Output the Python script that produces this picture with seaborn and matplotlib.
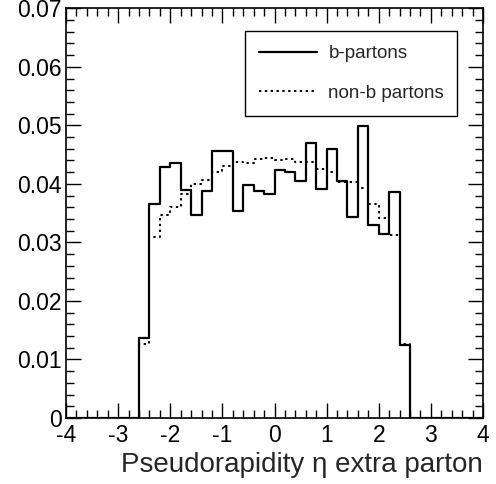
import numpy as np
import pandas as pd
import matplotlib
matplotlib.use("Agg")
import matplotlib.pyplot as plt
import seaborn as sns
from matplotlib.ticker import MultipleLocator, FuncFormatter

# bin centres of the filled bins (bin width 0.2, range -4..4)
eta_centers = [-2.5, -2.3, -2.1, -1.9, -1.7, -1.5, -1.3, -1.1, -0.9, -0.7,
               -0.5, -0.3, -0.1, 0.1, 0.3, 0.5, 0.7, 0.9, 1.1, 1.3,
               1.5, 1.7, 1.9, 2.1, 2.3, 2.5]
b_partons = [0.0136, 0.0366, 0.0428, 0.0435, 0.0390, 0.0347, 0.0387, 0.0457, 0.0457, 0.0354,
             0.0398, 0.0387, 0.0383, 0.0424, 0.0421, 0.0405, 0.0470, 0.0392, 0.0459, 0.0405,
             0.0343, 0.0499, 0.0330, 0.0315, 0.0386, 0.0124]
non_b_partons = [0.0126, 0.0309, 0.0346, 0.0360, 0.0383, 0.0400, 0.0407, 0.0420, 0.0430, 0.0438,
                 0.0436, 0.0442, 0.0444, 0.0440, 0.0442, 0.0438, 0.0437, 0.0425, 0.0420, 0.0404,
                 0.0404, 0.0393, 0.0366, 0.0341, 0.0312, 0.0126]
labels = ["b-partons", "non-b partons"]
x_label = "Pseudorapidity \u03b7 extra parton"

df = pd.DataFrame({"eta": eta_centers, "b": b_partons, "nonb": non_b_partons})

sns.set_theme(style="white")
plt.rcParams["font.family"] = ["Liberation Sans", "DejaVu Sans"]

fig = plt.figure(figsize=(4.96, 4.84), dpi=100)
ax = fig.add_axes([0.1331, 0.1364, 0.8407, 0.8465])

sns.histplot(data=df, x="eta", weights="b", binwidth=0.2, binrange=(-4, 4), element="step",
             fill=False, color="black", linewidth=1.6, linestyle="-", label=labels[0], ax=ax)
sns.histplot(data=df, x="eta", weights="nonb", binwidth=0.2, binrange=(-4, 4), element="step",
             fill=False, color="black", linewidth=1.4, linestyle=(0, (1.2, 1.8)),
             label=labels[1], ax=ax)

ax.set_xlim(-4, 4)
ax.set_ylim(0, 0.07)
ax.set_xlabel(x_label, fontsize=20, ha="right", x=1.0, labelpad=4)
ax.set_ylabel("")

ax.xaxis.set_major_locator(MultipleLocator(1))
ax.xaxis.set_minor_locator(MultipleLocator(0.2))
ax.yaxis.set_major_locator(MultipleLocator(0.01))
ax.yaxis.set_minor_locator(MultipleLocator(0.002))
ax.yaxis.set_major_formatter(FuncFormatter(lambda v, p: "0" if abs(v) < 1e-9 else f"{v:.2f}"))
ax.xaxis.set_major_formatter(FuncFormatter(lambda v, p: f"{int(round(v))}"))

ax.tick_params(which="both", direction="in", top=True, right=True, bottom=True, left=True,
               colors="black", labelsize=16.5)
ax.tick_params(which="major", length=11, width=1.0)
ax.tick_params(which="minor", length=6, width=1.0)
ax.tick_params(axis="x", which="major", pad=4)
ax.tick_params(axis="y", which="major", pad=3)
for s in ax.spines.values():
    s.set_color("black")
    s.set_linewidth(1.2)

leg = ax.legend(loc="center", bbox_to_anchor=(0.429, 0.742, 0.509, 0.197), mode="expand",
                fontsize=13.5, handlelength=3.1, handletextpad=0.6, labelspacing=1.2,
                borderpad=0.75, borderaxespad=0, fancybox=False, frameon=True)
leg.get_frame().set_edgecolor("black")
leg.get_frame().set_linewidth(1.0)
leg.get_frame().set_alpha(1)

fig.savefig("out.png", dpi=100, facecolor="white")
